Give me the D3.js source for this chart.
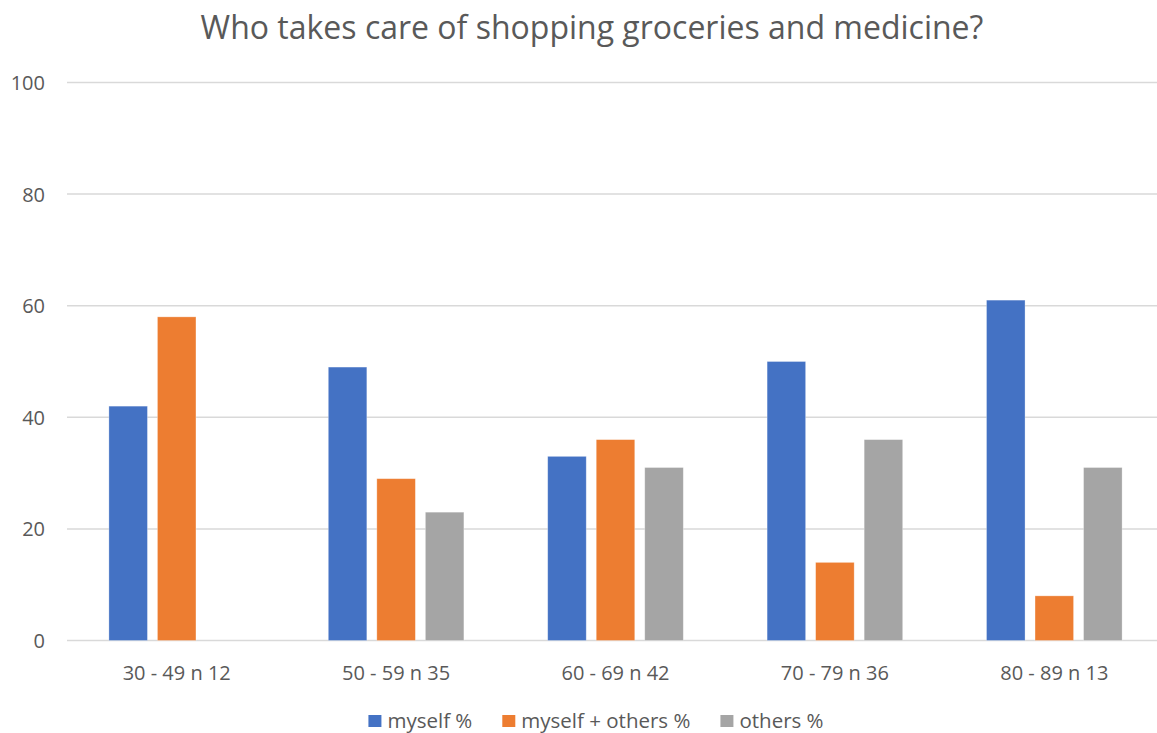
<!DOCTYPE html>
<html>
<head>
<meta charset="utf-8">
<script src="https://cdn.jsdelivr.net/npm/d3@7"></script>
<style>
	body { margin: 0; background: #fff; }
	text { font-family: "Open Sans", sans-serif; fill: #595959; }
</style>
</head>
<body>
<div id="chart"></div>
<script>
// Data
var categories = ['30 - 49 n 12', '50 - 59 n 35', '60 - 69 n 42', '70 - 79 n 36', '80 - 89 n 13'];
var series_names = ['myself %', 'myself + others %', 'others %'];
var myself = [42, 49, 33, 50, 61];
var myself_others = [58, 29, 36, 14, 8];
var others = [null, 23, 31, 36, 31];
var y_ticks = [0, 20, 40, 60, 80, 100];
var colors = ['#4472C4', '#ED7D31', '#A5A5A5'];

var total_width = 1157;
var total_height = 733;
var plot = { left: 67, right: 1164, top: 82.5, bottom: 640.5 };

var svg = d3.select('#chart')
	.append('svg')
	.attr('width', total_width)
	.attr('height', total_height);

// Title
svg.append('text')
	.attr('x', 592)
	.attr('y', 38.5)
	.attr('text-anchor', 'middle')
	.attr('font-size', '32px')
	.text('Who takes care of shopping groceries and medicine?');

// Scales
var y_scale = d3.scaleLinear().domain([0, 100]).range([plot.bottom, plot.top]);
var x_scale = d3.scaleBand().domain(categories).range([plot.left, plot.right])
	.paddingInner(0.382).paddingOuter(0.191);
var x_inner = d3.scaleBand().domain(series_names).range([0, x_scale.bandwidth()])
	.paddingInner(0.206).paddingOuter(0);

// Gridlines
svg.selectAll('.grid')
	.data(y_ticks)
	.enter()
	.append('line')
	.attr('class', 'grid')
	.attr('x1', plot.left)
	.attr('x2', plot.right)
	.attr('y1', function(d) { return y_scale(d); })
	.attr('y2', function(d) { return y_scale(d); })
	.attr('stroke', '#D9D9D9')
	.attr('stroke-width', 1.5);

// Y axis labels
var y_axis = svg.append('g')
	.attr('transform', 'translate(' + 45 + ',0)')
	.call(d3.axisLeft(y_scale).tickValues(y_ticks).tickSize(0).tickPadding(0));
y_axis.select('.domain').remove();
y_axis.selectAll('text')
	.attr('font-size', '20px')
	.attr('font-family', '"Open Sans", sans-serif')
	.attr('fill', '#595959')
	.attr('dy', '0.35em');

// X axis labels
var x_axis = svg.append('g')
	.attr('transform', 'translate(0,' + plot.bottom + ')')
	.call(d3.axisBottom(x_scale).tickSize(0).tickPadding(0));
x_axis.select('.domain').remove();
x_axis.selectAll('text')
	.attr('font-size', '20px')
	.attr('font-family', '"Open Sans", sans-serif')
	.attr('fill', '#595959')
	.attr('y', 39)
	.attr('dy', 0);

// Bars
var all_series = [myself, myself_others, others];
var bars = [];
categories.forEach(function(c, i) {
	all_series.forEach(function(s, j) {
		if (s[i] !== null) {
			bars.push({ cat: c, name: series_names[j], value: s[i], color: colors[j] });
		}
	});
});

svg.selectAll('.bar')
	.data(bars)
	.enter()
	.append('rect')
	.attr('class', 'bar')
	.attr('x', function(d) { return x_scale(d.cat) + x_inner(d.name); })
	.attr('y', function(d) { return y_scale(d.value); })
	.attr('width', x_inner.bandwidth())
	.attr('height', function(d) { return y_scale(0) - y_scale(d.value); })
	.attr('fill', function(d) { return d.color; })
	.attr('stroke', '#fff')
	.attr('stroke-opacity', 0.4)
	.attr('stroke-width', 0.75);

// Legend (kept just above the bottom edge so the descenders fit)
var legend = svg.append('g').attr('class', 'legend');
var items = legend.selectAll('.item')
	.data(series_names)
	.enter()
	.append('g')
	.attr('class', 'item');
items.append('rect')
	.attr('width', 13)
	.attr('height', 12)
	.attr('y', 715)
	.attr('fill', function(d, i) { return colors[i]; });
items.append('text')
	.attr('x', 19)
	.attr('y', 727.5)
	.attr('font-size', '20.5px')
	.text(function(d) { return d; });

var offset = 0;
var widths = [];
items.each(function(d, i) {
	var w = 19 + this.querySelector('text').getComputedTextLength();
	widths.push(w);
});
var total_legend = d3.sum(widths) + 30 * (widths.length - 1);
var start = 596 - total_legend / 2;
items.attr('transform', function(d, i) {
	var x = start + offset;
	offset += widths[i] + 30;
	return 'translate(' + x + ',0)';
});
</script>
</body>
</html>
